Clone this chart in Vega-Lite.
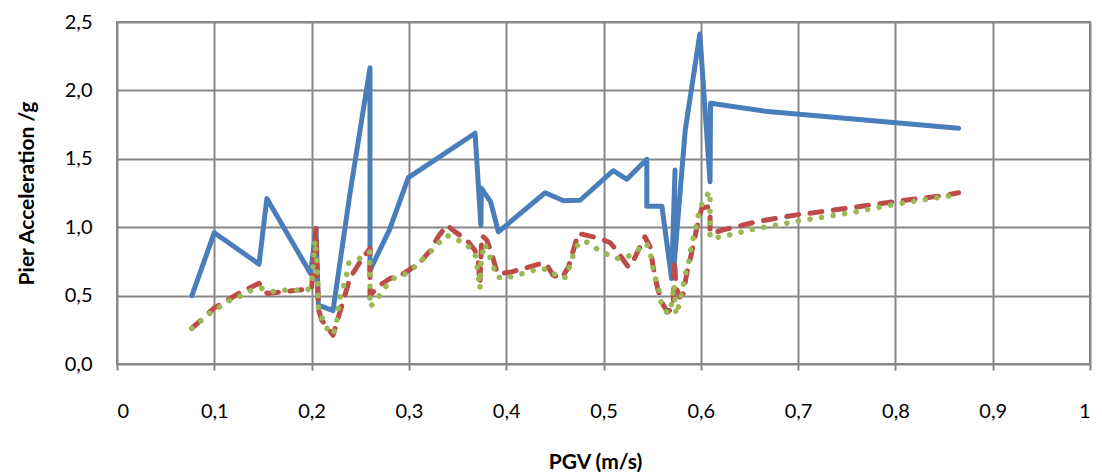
{
  "$schema": "https://vega.github.io/schema/vega-lite/v6.json",
  "width": 973,
  "height": 342,
  "autosize": {"type": "none"},
  "padding": {"left": 117, "top": 22, "right": 12, "bottom": 111},
  "background": "white",
  "config": {
    "font": "Lato",
    "view": {"stroke": "#878787", "strokeWidth": 2},
    "axis": {
      "domain": false,
      "grid": true,
      "gridColor": "#878787",
      "gridWidth": 2,
      "labelFont": "Lato",
      "labelFontSize": 20,
      "labelColor": "#000000",
      "titleFont": "Lato",
      "titleFontSize": 21,
      "titleFontWeight": "bold",
      "titleColor": "#000000"
    }
  },
  "datasets": {
    "seriesA": [
      {"pgv": 0.077, "acc": 0.50},
      {"pgv": 0.100, "acc": 0.96},
      {"pgv": 0.146, "acc": 0.73},
      {"pgv": 0.154, "acc": 1.21},
      {"pgv": 0.199, "acc": 0.66},
      {"pgv": 0.2045, "acc": 0.99},
      {"pgv": 0.207, "acc": 0.43},
      {"pgv": 0.222, "acc": 0.39},
      {"pgv": 0.2395, "acc": 1.25},
      {"pgv": 0.260, "acc": 2.165},
      {"pgv": 0.260, "acc": 0.685},
      {"pgv": 0.280, "acc": 0.98},
      {"pgv": 0.2994, "acc": 1.362},
      {"pgv": 0.368, "acc": 1.687},
      {"pgv": 0.374, "acc": 1.015},
      {"pgv": 0.3745, "acc": 1.284},
      {"pgv": 0.384, "acc": 1.186},
      {"pgv": 0.392, "acc": 0.966},
      {"pgv": 0.440, "acc": 1.252},
      {"pgv": 0.459, "acc": 1.193},
      {"pgv": 0.476, "acc": 1.197},
      {"pgv": 0.510, "acc": 1.413},
      {"pgv": 0.524, "acc": 1.35},
      {"pgv": 0.5445, "acc": 1.496},
      {"pgv": 0.5445, "acc": 1.154},
      {"pgv": 0.560, "acc": 1.154},
      {"pgv": 0.570, "acc": 0.625},
      {"pgv": 0.5735, "acc": 1.418},
      {"pgv": 0.5715, "acc": 0.63},
      {"pgv": 0.584, "acc": 1.71},
      {"pgv": 0.599, "acc": 2.413},
      {"pgv": 0.6095, "acc": 1.332},
      {"pgv": 0.610, "acc": 1.906},
      {"pgv": 0.669, "acc": 1.845},
      {"pgv": 0.865, "acc": 1.723}
    ],
    "seriesB": [
      {"pgv": 0.0768, "acc": 0.26},
      {"pgv": 0.100, "acc": 0.41},
      {"pgv": 0.126, "acc": 0.52},
      {"pgv": 0.146, "acc": 0.59},
      {"pgv": 0.1545, "acc": 0.515},
      {"pgv": 0.186, "acc": 0.54},
      {"pgv": 0.200, "acc": 0.552},
      {"pgv": 0.2045, "acc": 0.99},
      {"pgv": 0.207, "acc": 0.40},
      {"pgv": 0.2105, "acc": 0.32},
      {"pgv": 0.222, "acc": 0.21},
      {"pgv": 0.2395, "acc": 0.63},
      {"pgv": 0.252, "acc": 0.77},
      {"pgv": 0.260, "acc": 0.845},
      {"pgv": 0.260, "acc": 0.50},
      {"pgv": 0.270, "acc": 0.576},
      {"pgv": 0.2805, "acc": 0.625},
      {"pgv": 0.292, "acc": 0.65},
      {"pgv": 0.300, "acc": 0.686},
      {"pgv": 0.312, "acc": 0.747},
      {"pgv": 0.322, "acc": 0.83},
      {"pgv": 0.330, "acc": 0.93},
      {"pgv": 0.339, "acc": 1.015},
      {"pgv": 0.3475, "acc": 0.966},
      {"pgv": 0.3595, "acc": 0.906},
      {"pgv": 0.368, "acc": 0.83},
      {"pgv": 0.3715, "acc": 0.735},
      {"pgv": 0.373, "acc": 0.59},
      {"pgv": 0.375, "acc": 0.94},
      {"pgv": 0.380, "acc": 0.906},
      {"pgv": 0.385, "acc": 0.81},
      {"pgv": 0.389, "acc": 0.71},
      {"pgv": 0.391, "acc": 0.66},
      {"pgv": 0.404, "acc": 0.67},
      {"pgv": 0.414, "acc": 0.69},
      {"pgv": 0.424, "acc": 0.71},
      {"pgv": 0.438, "acc": 0.74},
      {"pgv": 0.443, "acc": 0.71},
      {"pgv": 0.448, "acc": 0.65},
      {"pgv": 0.457, "acc": 0.625},
      {"pgv": 0.464, "acc": 0.71},
      {"pgv": 0.469, "acc": 0.83},
      {"pgv": 0.474, "acc": 0.955},
      {"pgv": 0.483, "acc": 0.94},
      {"pgv": 0.4965, "acc": 0.918},
      {"pgv": 0.507, "acc": 0.886},
      {"pgv": 0.5135, "acc": 0.83},
      {"pgv": 0.5255, "acc": 0.71},
      {"pgv": 0.531, "acc": 0.76},
      {"pgv": 0.5425, "acc": 0.93},
      {"pgv": 0.548, "acc": 0.856},
      {"pgv": 0.551, "acc": 0.71},
      {"pgv": 0.556, "acc": 0.54},
      {"pgv": 0.5615, "acc": 0.43},
      {"pgv": 0.566, "acc": 0.38},
      {"pgv": 0.5715, "acc": 0.417},
      {"pgv": 0.573, "acc": 0.76},
      {"pgv": 0.5745, "acc": 0.56},
      {"pgv": 0.5785, "acc": 0.49},
      {"pgv": 0.582, "acc": 0.515},
      {"pgv": 0.5855, "acc": 0.66},
      {"pgv": 0.5905, "acc": 0.81},
      {"pgv": 0.596, "acc": 1.0},
      {"pgv": 0.601, "acc": 1.14},
      {"pgv": 0.608, "acc": 1.15},
      {"pgv": 0.6095, "acc": 1.11},
      {"pgv": 0.6095, "acc": 0.966},
      {"pgv": 0.611, "acc": 0.955},
      {"pgv": 0.623, "acc": 0.98},
      {"pgv": 0.657, "acc": 1.04},
      {"pgv": 0.6985, "acc": 1.09},
      {"pgv": 0.7365, "acc": 1.125},
      {"pgv": 0.7985, "acc": 1.186},
      {"pgv": 0.853, "acc": 1.235},
      {"pgv": 0.865, "acc": 1.252}
    ],
    "seriesC": [
      {"pgv": 0.0768, "acc": 0.26},
      {"pgv": 0.087, "acc": 0.32},
      {"pgv": 0.0955, "acc": 0.37},
      {"pgv": 0.106, "acc": 0.42},
      {"pgv": 0.116, "acc": 0.466},
      {"pgv": 0.1265, "acc": 0.496},
      {"pgv": 0.1385, "acc": 0.54},
      {"pgv": 0.149, "acc": 0.552},
      {"pgv": 0.1605, "acc": 0.53},
      {"pgv": 0.1725, "acc": 0.54},
      {"pgv": 0.1845, "acc": 0.54},
      {"pgv": 0.1965, "acc": 0.545},
      {"pgv": 0.200, "acc": 0.61},
      {"pgv": 0.2015, "acc": 0.71},
      {"pgv": 0.2035, "acc": 0.905},
      {"pgv": 0.2055, "acc": 0.735},
      {"pgv": 0.207, "acc": 0.48},
      {"pgv": 0.207, "acc": 0.39},
      {"pgv": 0.212, "acc": 0.32},
      {"pgv": 0.2175, "acc": 0.234},
      {"pgv": 0.2225, "acc": 0.22},
      {"pgv": 0.226, "acc": 0.32},
      {"pgv": 0.229, "acc": 0.48},
      {"pgv": 0.2325, "acc": 0.56},
      {"pgv": 0.236, "acc": 0.65},
      {"pgv": 0.2375, "acc": 0.735},
      {"pgv": 0.249, "acc": 0.77},
      {"pgv": 0.260, "acc": 0.82},
      {"pgv": 0.260, "acc": 0.417},
      {"pgv": 0.2685, "acc": 0.486},
      {"pgv": 0.2755, "acc": 0.56},
      {"pgv": 0.284, "acc": 0.625},
      {"pgv": 0.2945, "acc": 0.65},
      {"pgv": 0.3045, "acc": 0.70},
      {"pgv": 0.313, "acc": 0.76},
      {"pgv": 0.322, "acc": 0.82},
      {"pgv": 0.330, "acc": 0.88},
      {"pgv": 0.339, "acc": 0.94},
      {"pgv": 0.3495, "acc": 0.91},
      {"pgv": 0.3595, "acc": 0.87},
      {"pgv": 0.368, "acc": 0.81},
      {"pgv": 0.3695, "acc": 0.735},
      {"pgv": 0.373, "acc": 0.55},
      {"pgv": 0.3745, "acc": 0.78},
      {"pgv": 0.378, "acc": 0.88},
      {"pgv": 0.3865, "acc": 0.72},
      {"pgv": 0.390, "acc": 0.637},
      {"pgv": 0.3985, "acc": 0.625},
      {"pgv": 0.4105, "acc": 0.65},
      {"pgv": 0.4225, "acc": 0.67},
      {"pgv": 0.4345, "acc": 0.70},
      {"pgv": 0.445, "acc": 0.686},
      {"pgv": 0.4535, "acc": 0.632},
      {"pgv": 0.4615, "acc": 0.632},
      {"pgv": 0.4655, "acc": 0.72},
      {"pgv": 0.469, "acc": 0.80},
      {"pgv": 0.474, "acc": 0.88},
      {"pgv": 0.481, "acc": 0.90},
      {"pgv": 0.491, "acc": 0.85},
      {"pgv": 0.5015, "acc": 0.81},
      {"pgv": 0.513, "acc": 0.77},
      {"pgv": 0.524, "acc": 0.78},
      {"pgv": 0.5345, "acc": 0.83},
      {"pgv": 0.5445, "acc": 0.88},
      {"pgv": 0.5495, "acc": 0.77},
      {"pgv": 0.551, "acc": 0.686},
      {"pgv": 0.5545, "acc": 0.60},
      {"pgv": 0.558, "acc": 0.515},
      {"pgv": 0.5595, "acc": 0.43},
      {"pgv": 0.566, "acc": 0.37},
      {"pgv": 0.5695, "acc": 0.417},
      {"pgv": 0.5725, "acc": 0.58},
      {"pgv": 0.5745, "acc": 0.36},
      {"pgv": 0.578, "acc": 0.44},
      {"pgv": 0.5815, "acc": 0.56},
      {"pgv": 0.585, "acc": 0.686},
      {"pgv": 0.5885, "acc": 0.77},
      {"pgv": 0.590, "acc": 0.856},
      {"pgv": 0.594, "acc": 0.966},
      {"pgv": 0.5975, "acc": 1.09},
      {"pgv": 0.6025, "acc": 1.2},
      {"pgv": 0.6095, "acc": 1.26},
      {"pgv": 0.6095, "acc": 0.92},
      {"pgv": 0.6215, "acc": 0.93},
      {"pgv": 0.657, "acc": 0.99},
      {"pgv": 0.7045, "acc": 1.05},
      {"pgv": 0.7535, "acc": 1.105},
      {"pgv": 0.8015, "acc": 1.17},
      {"pgv": 0.861, "acc": 1.235},
      {"pgv": 0.865, "acc": 1.247}
    ]
  },
  "encoding": {
    "x": {
      "field": "pgv",
      "type": "quantitative",
      "scale": {"domain": [0, 1], "nice": false},
      "axis": {
        "title": "PGV (m/s)",
        "values": [0, 0.1, 0.2, 0.3, 0.4, 0.5, 0.6, 0.7, 0.8, 0.9, 1],
        "labelExpr": "replace(format(datum.value, '~g'), '.', ',')",
        "ticks": true,
        "tickSize": 6,
        "tickWidth": 2,
        "tickColor": "#878787",
        "labelPadding": 31,
        "titleBaseline": "middle",
        "titleX": 478,
        "titleY": 98
      }
    },
    "y": {
      "field": "acc",
      "type": "quantitative",
      "scale": {"domain": [0, 2.5], "nice": false},
      "axis": {
        "title": "Pier Acceleration /g",
        "values": [0, 0.5, 1, 1.5, 2, 2.5],
        "labelExpr": "replace(format(datum.value, '.1f'), '.', ',')",
        "ticks": false,
        "labelPadding": 25,
        "titleBaseline": "middle",
        "titleX": -90
      }
    },
    "order": {"value": null}
  },
  "layer": [
    {
      "data": {"name": "seriesA"},
      "mark": {"type": "line", "color": "#4A7EBB", "strokeWidth": 5, "strokeJoin": "round", "strokeCap": "round"}
    },
    {
      "data": {"name": "seriesB"},
      "mark": {"type": "line", "color": "#BE4B48", "strokeWidth": 5, "strokeJoin": "round", "strokeCap": "round", "strokeDash": [12, 11.5]}
    },
    {
      "data": {"name": "seriesC"},
      "mark": {"type": "line", "color": "#98B954", "strokeWidth": 5.5, "strokeJoin": "round", "strokeCap": "round", "strokeDash": [0.1, 11.6]}
    }
  ]
}
